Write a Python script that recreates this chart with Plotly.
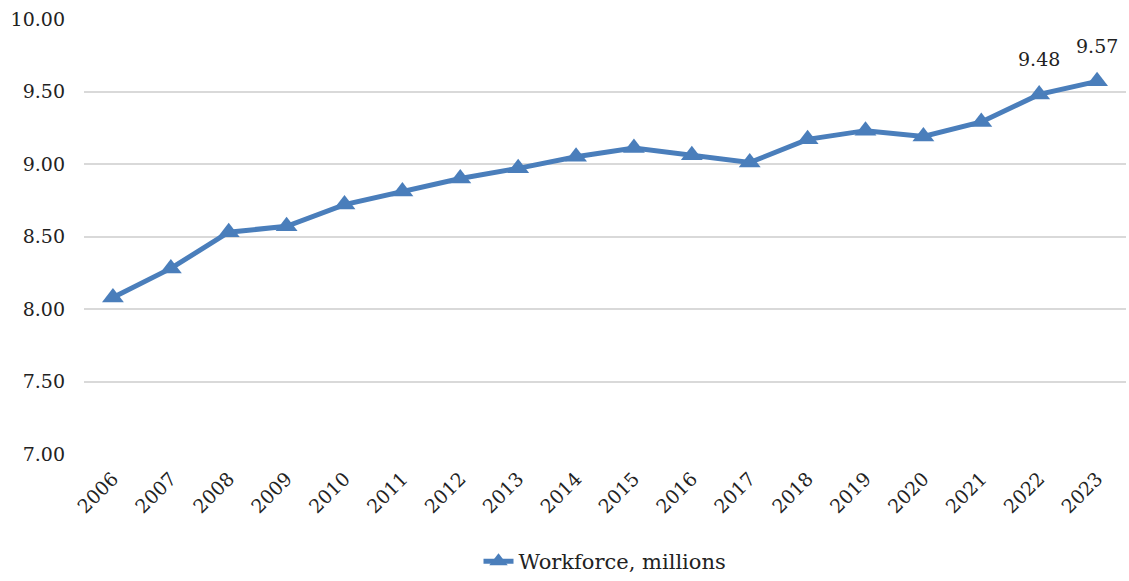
import plotly.graph_objects as go

years = [str(y) for y in range(2006, 2024)]
workforce = [8.08, 8.28, 8.53, 8.57, 8.72, 8.81, 8.90, 8.97, 9.05, 9.11,
             9.06, 9.01, 9.17, 9.23, 9.19, 9.29, 9.48, 9.57]
labelled_years = ["2022", "2023"]
y_ticks = [7.0, 7.5, 8.0, 8.5, 9.0, 9.5, 10.0]

FONT = "DejaVu Serif"
BLUE = "#4a7ebb"
TEXT = "#222222"

fig = go.Figure()
fig.add_trace(go.Scatter(
    x=years, y=workforce,
    mode="lines+markers",
    name="Workforce, millions",
    line=dict(color=BLUE, width=5),
    marker=dict(symbol="triangle-up", size=19, color=BLUE),
    cliponaxis=False,
))

# value labels above the last two points (category axis -> position index)
for i, (yr, val) in enumerate(zip(years, workforce)):
    if yr in labelled_years:
        fig.add_annotation(x=i, y=val, xref="x", yref="y", text=f"{val:.2f}",
                           showarrow=False, yanchor="bottom", yshift=22,
                           font=dict(family=FONT, size=19, color=TEXT))

fig.update_layout(
    width=1129, height=581,
    margin=dict(l=84, r=3, t=19, b=127, autoexpand=False),
    paper_bgcolor="white", plot_bgcolor="white",
    font=dict(family=FONT, size=19, color=TEXT),
    showlegend=True,
    legend=dict(orientation="h", x=0.5, xanchor="center", y=-0.2, yanchor="top",
                font=dict(family=FONT, size=21, color=TEXT)),
    xaxis=dict(type="category", range=[-0.5, len(years) - 0.5], autorange=False,
               tickangle=-45, showgrid=False, zeroline=False, automargin=False,
               showline=False, ticks="", ticklabelstandoff=9,
               tickfont=dict(family=FONT, size=19)),
    yaxis=dict(range=[7.0, 10.0], tickvals=y_ticks, tickformat=".2f",
               showgrid=True, gridcolor="#d9d9d9", gridwidth=2, automargin=False,
               zeroline=False, showline=False, ticks="", ticklabelstandoff=18,
               tickfont=dict(family=FONT, size=19)),
)

fig.write_html("out.html")
